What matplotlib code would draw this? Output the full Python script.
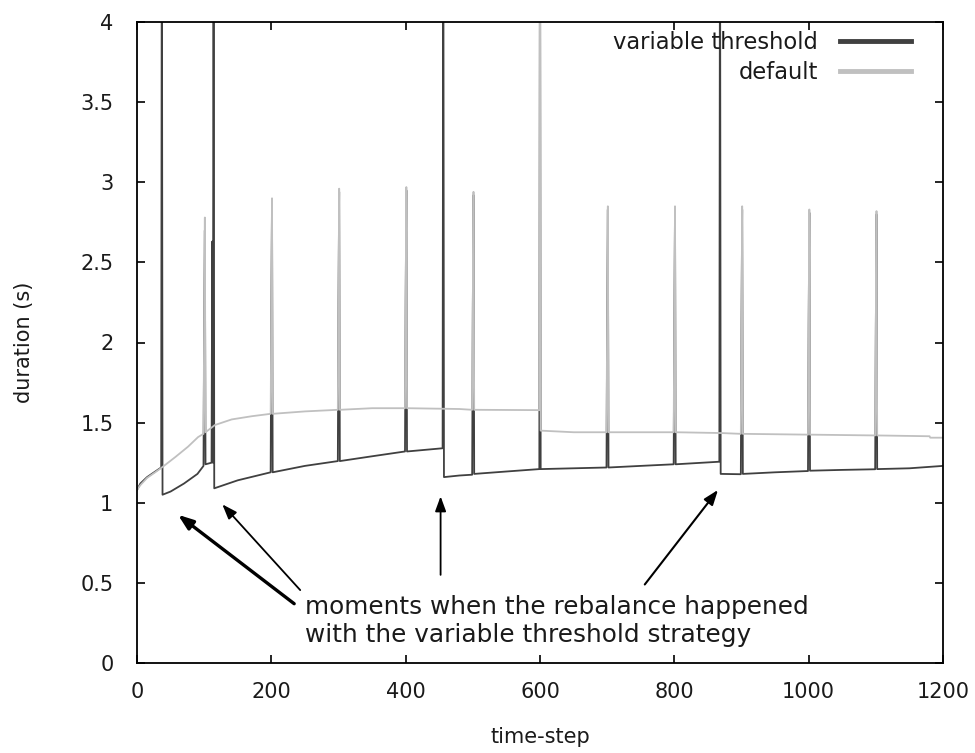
import matplotlib
matplotlib.use("Agg")
import matplotlib.pyplot as plt
from matplotlib.ticker import FuncFormatter

# breakpoints of each curve (time-step, duration in s)
VAR_STEPS = [0, 5, 15, 36, 37, 38, 50, 70, 90, 99, 100, 101, 102, 111, 112, 113, 114, 115,
             150, 199, 200, 201, 202, 250, 299, 300, 301, 302, 350, 399, 400, 401, 402,
             455, 456, 457, 480, 499, 500, 501, 502, 550, 599, 600, 601, 650, 699, 700, 701, 702,
             750, 799, 800, 801, 802, 867, 868, 869, 899, 900, 901, 902, 950, 999, 1000, 1001, 1002,
             1050, 1099, 1100, 1101, 1102, 1150, 1200]
VAR_DURATION = [1.08, 1.12, 1.16, 1.22, 5.0, 1.05, 1.07, 1.12, 1.18, 1.23, 2.10, 2.70, 1.24, 1.25, 2.63, 1.25, 5.0, 1.09,
                1.14, 1.19, 2.20, 2.88, 1.19, 1.23, 1.26, 2.26, 2.94, 1.26, 1.29, 1.32, 2.27, 2.95, 1.32,
                1.34, 5.0, 1.16, 1.17, 1.175, 2.24, 2.92, 1.18, 1.195, 1.21, 5.0, 1.21, 1.215, 1.22, 2.13, 2.83, 1.22,
                1.23, 1.24, 2.13, 2.83, 1.24, 1.256, 5.0, 1.18, 1.178, 2.12, 2.83, 1.18, 1.19, 1.198, 2.12, 2.81, 1.20,
                1.205, 1.209, 2.11, 2.80, 1.21, 1.215, 1.23]

DEF_STEPS = [0, 5, 15, 27, 37, 57, 76, 91, 99, 100, 101, 102, 116, 141, 171, 199, 200, 201, 202,
             250, 299, 300, 301, 302, 350, 399, 400, 401, 402, 480, 499, 500, 501, 502, 599, 600, 601,
             650, 699, 700, 701, 702, 799, 800, 801, 802, 870, 899, 900, 901, 902,
             999, 1000, 1001, 1002, 1099, 1100, 1101, 1102, 1180, 1181, 1200]
DEF_DURATION = [1.08, 1.11, 1.155, 1.19, 1.22, 1.285, 1.35, 1.41, 1.43, 2.12, 2.78, 1.44, 1.485, 1.52, 1.54, 1.555, 2.22, 2.90, 1.555,
                1.57, 1.58, 2.28, 2.96, 1.58, 1.59, 1.59, 2.29, 2.97, 1.59, 1.585, 1.58, 2.26, 2.94, 1.58, 1.578, 5.0, 1.45,
                1.44, 1.44, 2.15, 2.85, 1.44, 1.44, 2.15, 2.85, 1.44, 1.435, 1.43, 2.14, 2.85, 1.43,
                1.425, 2.14, 2.83, 1.425, 1.42, 2.13, 2.82, 1.42, 1.415, 1.406, 1.406]

# arrows: (tail x, tail y) -> (head x, head y), in data units
ARROW_TAILS = [(234, 0.37), (243, 0.455), (452, 0.55), (756, 0.49)]
ARROW_HEADS = [(61, 0.925), (127, 0.99), (452, 1.04), (865, 1.08)]
ARROW_WIDTHS = [2.4, 1.3, 1.3, 1.5]
NOTE = "moments when the rebalance happened\nwith the variable threshold strategy"

color_var = "#404040"
color_def = "#c0c0c0"
text_color = "#1a1a1a"

plt.rcParams["font.family"] = ["DejaVu Sans"]
plt.rcParams["font.size"] = 15

fig = plt.figure(figsize=(9.75, 7.53), dpi=100)
ax = fig.add_axes([137 / 975, 90 / 753, 806 / 975, 641 / 753])

ax.plot(VAR_STEPS, VAR_DURATION, color=color_var, lw=1.3, label="variable threshold")
ax.plot(DEF_STEPS, DEF_DURATION, color=color_def, lw=1.3, label="default")

ax.set_xlim(0, 1200)
ax.set_ylim(0, 4)
ax.set_xticks(range(0, 1201, 200))
ax.set_yticks([i * 0.5 for i in range(9)])
ax.yaxis.set_major_formatter(FuncFormatter(lambda v, p: f"{v:g}"))
ax.tick_params(direction="in", length=6, width=1.2, top=True, right=True,
               labelsize=15, labelcolor=text_color)
ax.tick_params(axis="y", pad=17)
ax.tick_params(axis="x", pad=14)
for s in ax.spines.values():
    s.set_linewidth(1.3)
    s.set_color("black")

ax.set_xlabel("time-step", fontsize=15, color=text_color, labelpad=18)
ax.set_ylabel("duration (s)", fontsize=15, color=text_color, labelpad=33)

for tail, head, w in zip(ARROW_TAILS, ARROW_HEADS, ARROW_WIDTHS):
    ax.annotate("", xy=head, xytext=tail,
                arrowprops=dict(arrowstyle="-|>,head_length=0.6,head_width=0.22",
                                color="black", lw=w, shrinkA=0, shrinkB=0))
ax.text(250, 0.262, NOTE, ha="left", va="center", fontsize=17.8, color=text_color,
        linespacing=1.2)

leg_lines = [plt.Line2D([], [], color=color_var, lw=3.5),
             plt.Line2D([], [], color=color_def, lw=3.5)]
leg = ax.legend(leg_lines, ["variable threshold", "default"], loc="upper right",
                frameon=False, markerfirst=False, fontsize=16.3, handlelength=3.1,
                handletextpad=1.0, labelspacing=0.3, borderaxespad=0.0,
                bbox_to_anchor=(0.971, 1.0))
for col in leg._legend_handle_box.get_children():
    col.align = "right"
for t in leg.get_texts():
    t.set_color(text_color)

fig.savefig("out.png", dpi=100)
